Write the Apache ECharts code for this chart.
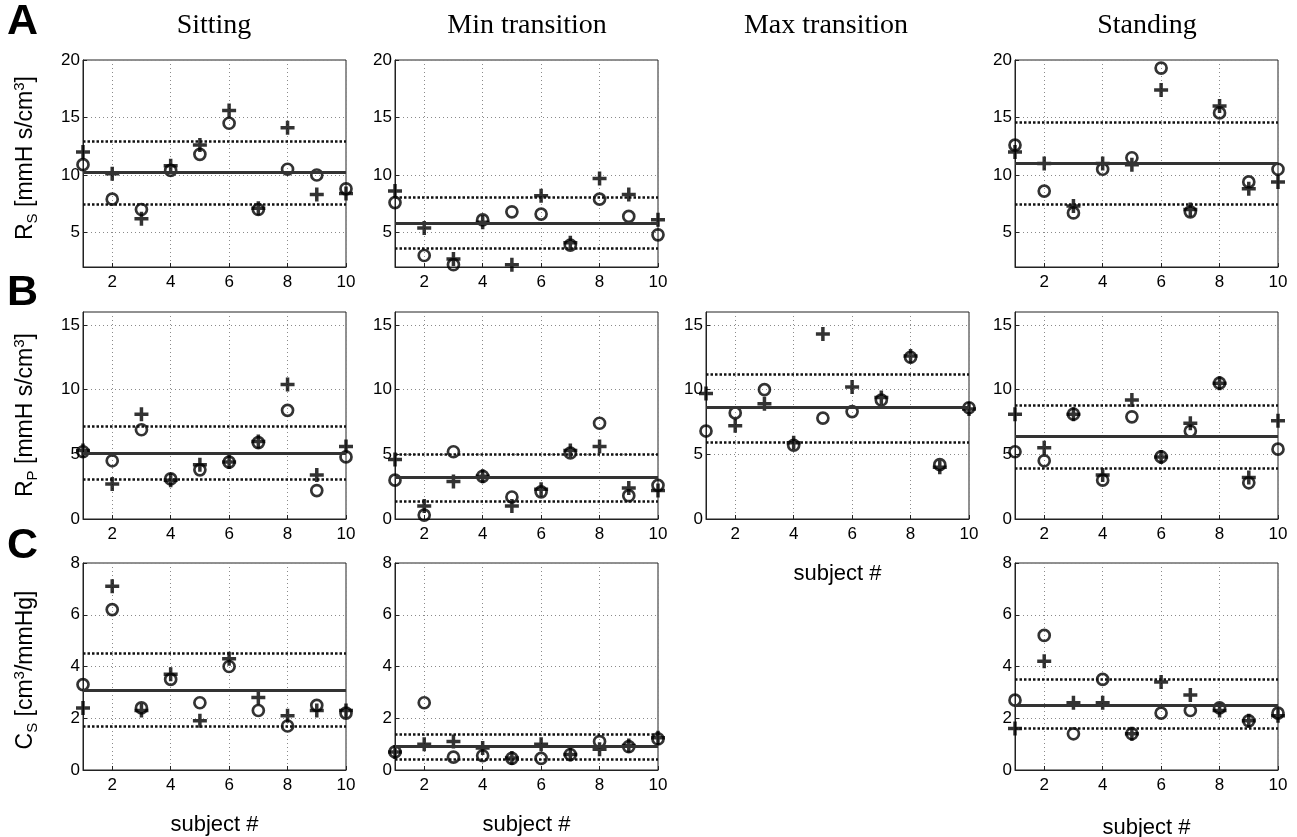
<!DOCTYPE html>
<html><head><meta charset="utf-8">
<script src="https://cdn.jsdelivr.net/npm/echarts@6/dist/echarts.min.js"></script>
<style>html,body{margin:0;padding:0;background:#fff}#c{width:1297px;height:837px}</style>
</head><body><div id="c"></div>
<script>
// ---- data ----
const subjects = [1, 2, 3, 4, 5, 6, 7, 8, 9, 10];
const xTicks = [2, 4, 6, 8, 10];
const yTicksRs = [5, 10, 15, 20];
const yTicksRp = [0, 5, 10, 15];
const yTicksCs = [0, 2, 4, 6, 8];
const columnTitles = ['Sitting', 'Min transition', 'Max transition', 'Standing'];

// circles (o) and crosses (+); band = [mean, upper, lower]
const rsSittingO = [10.9, 7.9, 7.0, 10.4, 11.8, 14.5, 7.0, 10.5, 10.0, 8.8];
const rsSittingP = [12.0, 10.1, 6.2, 10.8, 12.6, 15.6, 7.1, 14.1, 8.3, 8.4];
const rsSittingBand = [10.2, 12.9, 7.5];
const rsMinO = [7.6, 3.0, 2.2, 6.1, 6.8, 6.6, 3.9, 7.9, 6.4, 4.8];
const rsMinP = [8.6, 5.4, 2.7, 5.9, 2.2, 8.2, 4.1, 9.7, 8.3, 6.1];
const rsMinBand = [5.8, 8.1, 3.6];
const rsStandingO = [12.6, 8.6, 6.7, 10.5, 11.5, 19.3, 6.8, 15.4, 9.4, 10.5];
const rsStandingP = [12.0, 11.0, 7.3, 11.0, 10.9, 17.4, 7.0, 16.0, 8.8, 9.4];
const rsStandingBand = [11.0, 14.6, 7.5];

const rpSittingO = [5.2, 4.5, 6.9, 3.1, 3.8, 4.4, 5.9, 8.4, 2.2, 4.8];
const rpSittingP = [5.3, 2.7, 8.1, 3.0, 4.2, 4.4, 6.0, 10.4, 3.4, 5.6];
const rpSittingBand = [5.1, 7.2, 3.1];
const rpMinO = [3.0, 0.3, 5.2, 3.3, 1.7, 2.1, 5.1, 7.4, 1.8, 2.6];
const rpMinP = [4.6, 1.0, 2.9, 3.3, 1.0, 2.3, 5.3, 5.6, 2.4, 2.2];
const rpMinBand = [3.2, 5.0, 1.4];
const rpMaxO = [6.8, 8.2, 10.0, 5.7, 7.8, 8.3, 9.2, 12.5, 4.2, 8.6];
const rpMaxP = [9.7, 7.2, 8.9, 5.9, 14.3, 10.2, 9.4, 12.6, 4.0, 8.5];
const rpMaxBand = [8.6, 11.2, 5.9];
const rpStandingO = [5.2, 4.5, 8.1, 3.0, 7.9, 4.8, 6.8, 10.5, 2.8, 5.4];
const rpStandingP = [8.1, 5.5, 8.1, 3.4, 9.2, 4.8, 7.4, 10.5, 3.2, 7.6];
const rpStandingBand = [6.4, 8.8, 3.9];

const csSittingO = [3.3, 6.2, 2.4, 3.5, 2.6, 4.0, 2.3, 1.7, 2.5, 2.2];
const csSittingP = [2.4, 7.1, 2.3, 3.7, 1.9, 4.3, 2.8, 2.1, 2.3, 2.3];
const csSittingBand = [3.1, 4.5, 1.7];
const csMinO = [0.7, 2.6, 0.5, 0.55, 0.45, 0.45, 0.6, 1.1, 0.9, 1.2];
const csMinP = [0.7, 1.0, 1.1, 0.85, 0.46, 1.0, 0.6, 0.8, 0.95, 1.25];
const csMinBand = [0.9, 1.4, 0.4];
const csStandingO = [2.7, 5.2, 1.4, 3.5, 1.4, 2.2, 2.3, 2.4, 1.9, 2.2];
const csStandingP = [1.6, 4.2, 2.6, 2.6, 1.4, 3.4, 2.9, 2.3, 1.9, 2.1];
const csStandingBand = [2.5, 3.5, 1.6];

// ---- layout ----
const colLeft = [83, 395, 706, 1015];
const rowTop = [60, 312, 563];
const plotW = 263, plotH = 207;
const rowAxis = [
  {min: 2, max: 20, ticks: yTicksRs},
  {min: 0, max: 16, ticks: yTicksRp},
  {min: 0, max: 8, ticks: yTicksCs}
];
const panels = [
  {row: 0, col: 0, o: rsSittingO, p: rsSittingP, band: rsSittingBand},
  {row: 0, col: 1, o: rsMinO, p: rsMinP, band: rsMinBand},
  {row: 0, col: 3, o: rsStandingO, p: rsStandingP, band: rsStandingBand},
  {row: 1, col: 0, o: rpSittingO, p: rpSittingP, band: rpSittingBand},
  {row: 1, col: 1, o: rpMinO, p: rpMinP, band: rpMinBand},
  {row: 1, col: 2, o: rpMaxO, p: rpMaxP, band: rpMaxBand, xname: 44},
  {row: 1, col: 3, o: rpStandingO, p: rpStandingP, band: rpStandingBand},
  {row: 2, col: 0, o: csSittingO, p: csSittingP, band: csSittingBand, xname: 44},
  {row: 2, col: 1, o: csMinO, p: csMinP, band: csMinBand, xname: 44},
  {row: 2, col: 3, o: csStandingO, p: csStandingP, band: csStandingBand, xname: 47}
];

const plusPath = 'path://M7.5,0H12.5V7.5H20V12.5H12.5V20H7.5V12.5H0V7.5H7.5Z';
const FONT = 'Liberation Sans, Arial, Helvetica, sans-serif';
const grids = [], xAxes = [], yAxes = [], series = [];
const gridLine = {show: true, lineStyle: {color: '#8a8a8a', type: [1, 3], width: 1}};

panels.forEach((pn, i) => {
  const ra = rowAxis[pn.row];
  grids.push({left: colLeft[pn.col], top: rowTop[pn.row], width: plotW, height: plotH,
    outerBoundsMode: 'none', containLabel: false,
    show: true, borderColor: '#222', borderWidth: 1, backgroundColor: 'transparent'});
  xAxes.push({type: 'value', gridIndex: i, min: 1, max: 10,
    axisLine: {show: true, lineStyle: {color: '#222', width: 1}},
    axisTick: {show: true, inside: true, length: 4, customValues: xTicks, lineStyle: {color: '#222'}},
    axisLabel: {show: true, customValues: xTicks, color: '#000', fontSize: 17, fontFamily: FONT, margin: 7},
    splitLine: gridLine,
    name: pn.xname ? 'subject #' : '', nameLocation: 'middle', nameGap: pn.xname || 44,
    nameTextStyle: {fontSize: 22, fontFamily: FONT, color: '#000'}
  });
  yAxes.push({type: 'value', gridIndex: i, min: ra.min, max: ra.max,
    axisLine: {show: true, lineStyle: {color: '#222', width: 1}},
    axisTick: {show: true, inside: true, length: 4, customValues: ra.ticks, lineStyle: {color: '#222'}},
    axisLabel: {show: true, customValues: ra.ticks, color: '#000', fontSize: 17, fontFamily: FONT, margin: 3},
    splitLine: gridLine
  });
  const mean = pn.band[0], up = pn.band[1], lo = pn.band[2];
  series.push({type: 'scatter', xAxisIndex: i, yAxisIndex: i,
    data: subjects.map((s, k) => [s, pn.o[k]]),
    symbol: 'circle', symbolSize: 11,
    itemStyle: {color: 'rgba(0,0,0,0)', borderColor: '#000', borderWidth: 2.7},
    markLine: {silent: true, symbol: ['none', 'none'], label: {show: false},
      data: [
        {yAxis: mean, lineStyle: {color: '#333', width: 2.8, type: 'solid'}},
        {yAxis: up, lineStyle: {color: '#111', width: 2.5, type: [2.5, 2]}},
        {yAxis: lo, lineStyle: {color: '#111', width: 2.5, type: [2.5, 2]}}
      ]}
  });
  series.push({type: 'scatter', xAxisIndex: i, yAxisIndex: i,
    data: subjects.map((s, k) => [s, pn.p[k]]),
    symbol: plusPath, symbolSize: 14,
    itemStyle: {color: '#000'}
  });
});

const graphics = [];
const titleX = [214, 527, 826, 1147];
columnTitles.forEach((t, i) => graphics.push({type: 'text', x: titleX[i], y: 26,
  style: {text: t, font: '28px "Liberation Serif", "Times New Roman", serif', fill: '#000', textAlign: 'center', textVerticalAlign: 'middle'}}));
[['A', 22], ['B', 293], ['C', 546]].forEach(([l, y]) => graphics.push({type: 'text', x: 7, y: y,
  style: {text: l, font: 'bold 43px "Liberation Sans", Arial, sans-serif', fill: '#000', textAlign: 'left', textVerticalAlign: 'middle'}}));

const richBase = {
  m: {fontSize: 23, fontFamily: FONT, lineHeight: 28},
  s: {fontSize: 15, fontFamily: FONT, lineHeight: 14, verticalAlign: 'bottom'},
  p: {fontSize: 15, fontFamily: FONT, lineHeight: 18, verticalAlign: 'top'}
};
const yNames = [
  {text: '{m|R}{s|S}{m| [mmH s/cm}{p|3}{m|]}', y: 158},
  {text: '{m|R}{s|P}{m| [mmH s/cm}{p|3}{m|]}', y: 415},
  {text: '{m|C}{s|S}{m| [cm}{p|3}{m|/mmHg]}', y: 670}
];
yNames.forEach(n => graphics.push({type: 'text', x: 26, y: n.y, rotation: Math.PI / 2,
  style: {text: n.text, rich: richBase, fill: '#000', textAlign: 'center', textVerticalAlign: 'middle'}}));

const chart = echarts.init(document.getElementById('c'), null, {renderer: 'canvas'});
chart.setOption({
  animation: false,
  backgroundColor: '#fff',
  grid: grids, xAxis: xAxes, yAxis: yAxes, series: series,
  graphic: graphics
});
</script>
</body></html>
